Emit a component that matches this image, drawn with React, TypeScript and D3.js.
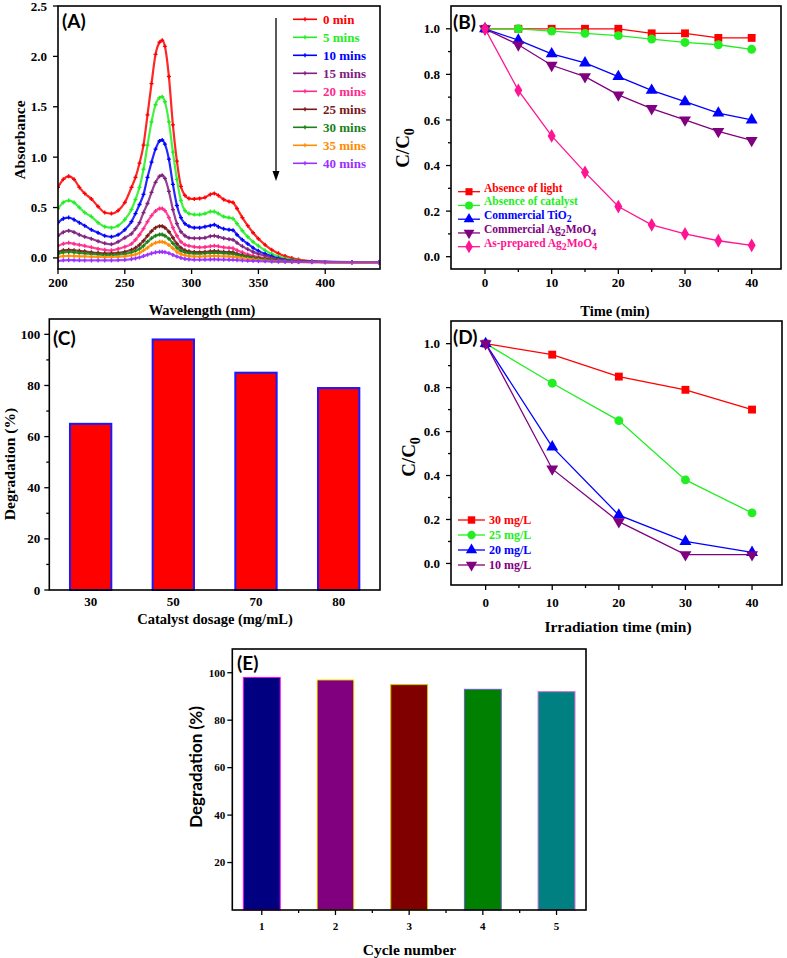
import React from 'react';
import * as d3 from 'd3';

const SERIF = '"Liberation Serif", "Times New Roman", serif';
const SANS = 'Lato, "Liberation Sans", Arial, sans-serif';

// (A) UV-vis spectra, absorbance
const wavelengths = [
  200, 204, 208, 212, 216, 220,
  225, 230, 235, 240, 245, 250, 255,
  258, 261, 264, 267, 270, 273, 276, 278, 280,
  283, 286, 289, 292, 295, 298,
  302, 306, 310, 314, 317, 320,
  324, 328, 331, 334, 338, 342, 346, 350,
  355, 360, 365, 370, 375, 380,
  390, 400, 420, 440,
];
const abs0 = [
  0.70, 0.78, 0.81, 0.78, 0.70, 0.64,
  0.585, 0.51, 0.45, 0.44, 0.47, 0.55, 0.70,
  0.80, 0.94, 1.12, 1.42, 1.73, 2.02, 2.14, 2.16, 2.10,
  1.80, 1.32, 0.96, 0.71, 0.62, 0.59,
  0.585, 0.59, 0.60, 0.63, 0.64, 0.62,
  0.58, 0.56, 0.55, 0.49, 0.40, 0.32, 0.25, 0.19,
  0.13, 0.08, 0.045, 0.018, -0.002, -0.016,
  -0.032, -0.04, -0.045, -0.047,
];
const abs5 = [
  0.49, 0.55, 0.57, 0.55, 0.50, 0.45,
  0.41, 0.35, 0.31, 0.30, 0.32, 0.38, 0.48,
  0.58, 0.70, 0.88, 1.12, 1.35, 1.52, 1.59, 1.60, 1.55,
  1.35, 1.05, 0.78, 0.57, 0.47, 0.44,
  0.43, 0.43, 0.44, 0.46, 0.46, 0.44,
  0.41, 0.40, 0.39, 0.34, 0.27, 0.21, 0.16, 0.12,
  0.075, 0.04, 0.015, -0.005, -0.018, -0.027,
  -0.036, -0.04, -0.042, -0.043,
];
const abs10 = [
  0.35, 0.39, 0.40, 0.38, 0.35, 0.32,
  0.28, 0.25, 0.22, 0.21, 0.23, 0.28, 0.36,
  0.44, 0.53, 0.63, 0.80, 0.95, 1.08, 1.16, 1.17, 1.13,
  0.98, 0.73, 0.52, 0.40, 0.34, 0.315,
  0.30, 0.30, 0.31, 0.32, 0.33, 0.31,
  0.29, 0.28, 0.275, 0.23, 0.18, 0.14, 0.10, 0.07,
  0.04, 0.015, -0.005, -0.018, -0.027, -0.032,
  -0.037, -0.04, -0.042, -0.043,
];
const abs15 = [
  0.22, 0.255, 0.27, 0.255, 0.23, 0.21,
  0.19, 0.165, 0.145, 0.135, 0.16, 0.20, 0.24,
  0.29, 0.35, 0.45, 0.54, 0.65, 0.75, 0.81, 0.82, 0.79,
  0.66, 0.48, 0.34, 0.26, 0.22, 0.20,
  0.195, 0.195, 0.20, 0.215, 0.22, 0.21,
  0.195, 0.185, 0.18, 0.15, 0.115, 0.085, 0.06, 0.04,
  0.02, 0.0, -0.014, -0.024, -0.03, -0.034,
  -0.038, -0.04, -0.042, -0.043,
];
const abs20 = [
  0.12, 0.14, 0.15, 0.14, 0.13, 0.12,
  0.105, 0.09, 0.08, 0.075, 0.09, 0.11, 0.14,
  0.18, 0.23, 0.29, 0.36, 0.42, 0.465, 0.49, 0.49, 0.47,
  0.40, 0.30, 0.22, 0.16, 0.13, 0.12,
  0.11, 0.105, 0.108, 0.115, 0.12, 0.115,
  0.105, 0.10, 0.095, 0.075, 0.055, 0.035, 0.02, 0.01,
  -0.005, -0.015, -0.024, -0.03, -0.034, -0.036,
  -0.039, -0.04, -0.042, -0.043,
];
const abs25 = [
  0.06, 0.075, 0.08, 0.075, 0.07, 0.065,
  0.055, 0.05, 0.045, 0.045, 0.05, 0.06, 0.08,
  0.10, 0.13, 0.17, 0.22, 0.265, 0.30, 0.315, 0.315, 0.30,
  0.26, 0.20, 0.14, 0.10, 0.075, 0.065,
  0.058, 0.057, 0.06, 0.065, 0.068, 0.065,
  0.06, 0.058, 0.055, 0.04, 0.028, 0.015, 0.005, -0.002,
  -0.012, -0.02, -0.027, -0.032, -0.035, -0.037,
  -0.04, -0.041, -0.042, -0.043,
];
const abs30 = [
  0.04, 0.055, 0.06, 0.055, 0.05, 0.045,
  0.04, 0.035, 0.03, 0.03, 0.034, 0.04, 0.055,
  0.07, 0.09, 0.12, 0.16, 0.195, 0.22, 0.232, 0.232, 0.22,
  0.19, 0.145, 0.10, 0.07, 0.055, 0.048,
  0.043, 0.042, 0.045, 0.048, 0.05, 0.048,
  0.045, 0.043, 0.04, 0.03, 0.018, 0.008, 0.0, -0.007,
  -0.015, -0.022, -0.028, -0.033, -0.036, -0.038,
  -0.04, -0.041, -0.042, -0.043,
];
const abs35 = [
  0.01, 0.018, 0.02, 0.018, 0.016, 0.015,
  0.012, 0.01, 0.008, 0.009, 0.011, 0.015, 0.025,
  0.035, 0.05, 0.075, 0.10, 0.13, 0.15, 0.16, 0.16, 0.152,
  0.128, 0.095, 0.06, 0.038, 0.025, 0.018,
  0.014, 0.013, 0.015, 0.018, 0.02, 0.018,
  0.015, 0.014, 0.012, 0.005, -0.003, -0.01, -0.016, -0.021,
  -0.027, -0.032, -0.036, -0.039, -0.041, -0.043,
  -0.045, -0.046, -0.047, -0.047,
];
const abs40 = [
  -0.03, -0.024, -0.022, -0.023, -0.024, -0.025,
  -0.025, -0.025, -0.025, -0.025, -0.023, -0.02, -0.012,
  -0.005, 0.005, 0.018, 0.032, 0.045, 0.055, 0.06, 0.06, 0.057,
  0.046, 0.03, 0.014, 0.0, -0.01, -0.015,
  -0.018, -0.018, -0.017, -0.016, -0.015, -0.016,
  -0.017, -0.018, -0.019, -0.022, -0.025, -0.028, -0.03, -0.032,
  -0.034, -0.036, -0.037, -0.038, -0.039, -0.04,
  -0.041, -0.042, -0.043, -0.043,
];
const spectra = [abs0, abs5, abs10, abs15, abs20, abs25, abs30, abs35, abs40];
const spectraLabels = ['0 min', '5 mins', '10 mins', '15 mins', '20 mins', '25 mins', '30 mins', '35 mins', '40 mins'];
const spectraColors = ['#ff0000', '#22ee22', '#0000ff', '#802080', '#ff2a8a', '#7a1a1a', '#1a801a', '#ff8c00', '#9a30ff'];

// (B) C/C0 vs time
const timesB = [0, 5, 10, 15, 20, 25, 30, 35, 40];
const noLight = [1, 1, 1, 1, 1, 0.98, 0.98, 0.96, 0.96];
const noCatalyst = [1, 1, 0.99, 0.98, 0.97, 0.955, 0.94, 0.93, 0.91];
const commTiO2 = [1, 0.95, 0.89, 0.85, 0.79, 0.73, 0.68, 0.63, 0.6];
const commAg2MoO4 = [1, 0.93, 0.84, 0.79, 0.71, 0.65, 0.6, 0.55, 0.51];
const prepAg2MoO4 = [1, 0.73, 0.53, 0.37, 0.22, 0.14, 0.1, 0.07, 0.05];
const seriesB = [noLight, noCatalyst, commTiO2, commAg2MoO4, prepAg2MoO4];
const labelsB = ['Absence of light', 'Absence of catalyst', 'Commercial TiO2', 'Commercial Ag2MoO4', 'As-prepared Ag2MoO4'];
const colorsB = ['#ff0000', '#22ee22', '#0000ff', '#800080', '#ff1493'];
const shapesB = ['square', 'circle', 'up', 'down', 'diamond'];

// (C) catalyst dosage
const dosages = ['30', '50', '70', '80'];
const dosageDeg = [65, 98, 85, 79];

// (D) initial concentration
const timesD = [0, 10, 20, 30, 40];
const conc30 = [1, 0.95, 0.85, 0.79, 0.7];
const conc25 = [1, 0.82, 0.65, 0.38, 0.23];
const conc20 = [1, 0.53, 0.22, 0.1, 0.05];
const conc10 = [1, 0.43, 0.19, 0.04, 0.04];
const seriesD = [conc30, conc25, conc20, conc10];
const labelsD = ['30 mg/L', '25 mg/L', '20 mg/L', '10 mg/L'];
const colorsD = ['#ff0000', '#22ee22', '#0000ff', '#800080'];
const shapesD = ['square', 'circle', 'up', 'down'];

// (E) recycling
const cycles = ['1', '2', '3', '4', '5'];
const cycleDeg = [98, 97, 95, 93, 92];
const cycleFill = ['#000080', '#800080', '#800000', '#008000', '#008080'];
const cycleStroke = ['#ff00ff', '#ffff00', '#cccc00', '#6a5acd', '#cc66cc'];

function symbolPath(shape: string, size: number) {
  const type =
    shape === 'square' ? d3.symbolSquare :
    shape === 'circle' ? d3.symbolCircle :
    shape === 'diamond' ? d3.symbolDiamond : d3.symbolTriangle;
  return d3.symbol(type, size)() as string;
}

function Marker({ shape, x, y, color, size = 60 }: any) {
  const rot = shape === 'down' ? ' rotate(180)' : '';
  return <path d={symbolPath(shape, size)} transform={`translate(${x},${y})${rot}`} fill={color} />;
}

function Frame({ L, R, T, B }: any) {
  return <rect x={L} y={T} width={R - L} height={B - T} fill="none" stroke="#000" strokeWidth={1.6} />;
}

function YTicks({ scale, x, major, minor = [], fmt, size = 13, gap = 11, len = 5 }: any) {
  return (
    <g>
      {minor.map((v: number) => (
        <line key={'m' + v} x1={x - 3} x2={x} y1={scale(v)} y2={scale(v)} stroke="#000" strokeWidth={1.3} />
      ))}
      {major.map((v: number) => (
        <g key={v}>
          <line x1={x - len} x2={x} y1={scale(v)} y2={scale(v)} stroke="#000" strokeWidth={1.3} />
          <text x={x - gap} y={scale(v)} dy="0.35em" textAnchor="end" fontFamily={SERIF} fontWeight="bold" fontSize={size}>
            {fmt(v)}
          </text>
        </g>
      ))}
    </g>
  );
}

function XTicks({ ticks, minor = [], y, size = 13, offset = 18, len = 5, showTicks = true }: any) {
  return (
    <g>
      {minor.map((p: number, i: number) => (
        <line key={'m' + i} x1={p} x2={p} y1={y} y2={y + 3} stroke="#000" strokeWidth={1.3} />
      ))}
      {ticks.map(([p, label]: [number, string], i: number) => (
        <g key={i}>
          {showTicks && <line x1={p} x2={p} y1={y} y2={y + len} stroke="#000" strokeWidth={1.3} />}
          <text x={p} y={y + offset} textAnchor="middle" fontFamily={SERIF} fontWeight="bold" fontSize={size}>
            {label}
          </text>
        </g>
      ))}
    </g>
  );
}

function Chem({ text }: { text: string }) {
  const parts = text.split(/(\d)/);
  const out: any[] = [];
  let shifted = false;
  parts.forEach((p, i) => {
    if (!p) return;
    if (i % 2) {
      out.push(<tspan key={i} dy={3} fontSize="0.85em">{p}</tspan>);
      shifted = true;
    } else {
      out.push(<tspan key={i} dy={shifted ? -3 : 0}>{p}</tspan>);
      shifted = false;
    }
  });
  return <>{out}</>;
}

function CC0Label({ x, y }: any) {
  return (
    <text transform={`translate(${x},${y}) rotate(-90)`} dy="0.35em" textAnchor="middle" fontFamily={SERIF} fontWeight="bold" fontSize={19}>
      C/C<tspan dy={5} fontSize={14}>0</tspan>
    </text>
  );
}

function PanelLetter({ x, y, text }: any) {
  return <text x={x} y={y} fontFamily={SANS} fontWeight="bold" fontSize={19}>{text}</text>;
}

function PanelA() {
  const L = 58, R = 380, T = 6, B = 269;
  const x = d3.scaleLinear().domain([200, 441]).range([L, R]);
  const y = d3.scaleLinear().domain([-0.11, 2.5]).range([B, T]);
  const line = d3.line<number>().x((_, i) => x(wavelengths[i])).y((v) => y(v)).curve(d3.curveMonotoneX);
  const cross = d3.symbol(d3.symbolCross, 9)() as string;
  return (
    <g>
      <defs>
        <clipPath id="clipA"><rect x={L} y={T} width={R - L} height={B - T} /></clipPath>
      </defs>
      <g clipPath="url(#clipA)">
        {spectra.map((s, k) => (
          <g key={k}>
            <path d={line(s) as string} fill="none" stroke={spectraColors[k]} strokeWidth={2.2} strokeOpacity={0.85} />
            {s.map((v, i) => (
              <path key={i} d={cross} transform={`translate(${x(wavelengths[i])},${y(v)})`} fill={spectraColors[k]} />
            ))}
          </g>
        ))}
      </g>
      <Frame L={L} R={R} T={T} B={B} />
      <YTicks scale={y} x={L} major={[0, 0.5, 1, 1.5, 2, 2.5]} fmt={d3.format('.1f')} />
      <XTicks y={B} ticks={[200, 250, 300, 350, 400].map((v) => [x(v), String(v)])} />
      <text transform="translate(20,140) rotate(-90)" dy="0.35em" textAnchor="middle" fontFamily={SERIF} fontWeight="bold" fontSize={15.5}>
        Absorbance
      </text>
      <text x={202} y={310} dy="0.35em" textAnchor="middle" fontFamily={SERIF} fontWeight="bold" fontSize={14.5}>
        Wavelength (nm)
      </text>
      <PanelLetter x={62} y={28} text="(A)" />
      <line x1={276} x2={276} y1={18} y2={174} stroke="#000" strokeWidth={1.3} />
      <path d="M272.5,171 L279.5,171 L276,181 Z" fill="#000" />
      {spectraLabels.map((lab, i) => {
        const ry = 19.3 + 18 * i;
        return (
          <g key={lab}>
            <line x1={293} x2={317} y1={ry} y2={ry} stroke={spectraColors[i]} strokeWidth={1.6} />
            <path d={cross} transform={`translate(305,${ry})`} fill={spectraColors[i]} />
            <text x={323} y={ry} dy="0.35em" fill={spectraColors[i]} fontFamily={SERIF} fontWeight="bold" fontSize={13}>
              {lab}
            </text>
          </g>
        );
      })}
    </g>
  );
}

function PanelB() {
  const L = 451, R = 781, T = 6, B = 269;
  const x = d3.scaleLinear().domain([-5.1, 44.4]).range([L, R]);
  const y = d3.scaleLinear().domain([-0.054, 1.1]).range([B, T]);
  const line = d3.line<number>().x((_, i) => x(timesB[i])).y((v) => y(v));
  return (
    <g>
      {seriesB.map((s, k) => (
        <g key={k}>
          <path d={line(s) as string} fill="none" stroke={colorsB[k]} strokeWidth={1.3} />
          {s.map((v, i) => (
            <Marker key={i} shape={shapesB[k]} x={x(timesB[i])} y={y(v)} color={colorsB[k]} size={shapesB[k] === 'diamond' ? 55 : 62} />
          ))}
        </g>
      ))}
      <Frame L={L} R={R} T={T} B={B} />
      <YTicks scale={y} x={L} major={[0, 0.2, 0.4, 0.6, 0.8, 1.0]} minor={[0.1, 0.3, 0.5, 0.7, 0.9]} fmt={d3.format('.1f')} />
      <XTicks y={B} ticks={[0, 10, 20, 30, 40].map((v) => [x(v), String(v)])} minor={[5, 15, 25, 35].map((v) => x(v))} />
      <CC0Label x={402} y={148} />
      <text x={615} y={311} dy="0.35em" textAnchor="middle" fontFamily={SERIF} fontWeight="bold" fontSize={14.5}>
        Time (min)
      </text>
      <PanelLetter x={453} y={29} text="(B)" />
      {labelsB.map((lab, i) => {
        const ry = 191.7 + 13.75 * i;
        return (
          <g key={lab}>
            <line x1={458} x2={480} y1={ry} y2={ry} stroke={colorsB[i]} strokeWidth={1.3} />
            <Marker shape={shapesB[i]} x={469} y={ry} color={colorsB[i]} size={50} />
            <text x={484} y={ry} dy="0.35em" fill={colorsB[i]} fontFamily={SERIF} fontWeight="bold" fontSize={11.5}>
              <Chem text={lab} />
            </text>
          </g>
        );
      })}
    </g>
  );
}

function PanelC() {
  const L = 49.3, R = 380, T = 319, B = 590;
  const x = d3.scaleBand<string>().domain(dosages).range([L, R]).paddingInner(0.5).paddingOuter(0.25);
  const y = d3.scaleLinear().domain([0, 106]).range([B, T]);
  return (
    <g>
      {dosages.map((d, i) => (
        <rect key={d} x={x(d)} y={y(dosageDeg[i])} width={x.bandwidth()} height={y(0) - y(dosageDeg[i])}
          fill="#ff0000" stroke="#1a1aff" strokeWidth={2} />
      ))}
      <Frame L={L} R={R} T={T} B={B} />
      <YTicks scale={y} x={L} major={[0, 20, 40, 60, 80, 100]} minor={[10, 30, 50, 70, 90]} fmt={d3.format('d')} gap={9} />
      <XTicks y={B} showTicks={false} offset={16} ticks={dosages.map((d) => [(x(d) as number) + x.bandwidth() / 2, d])} />
      <text transform="translate(10,464) rotate(-90)" dy="0.35em" textAnchor="middle" fontFamily={SERIF} fontWeight="bold" fontSize={15.5}>
        Degradation (%)
      </text>
      <text x={215} y={619} dy="0.35em" textAnchor="middle" fontFamily={SERIF} fontWeight="bold" fontSize={14.5}>
        Catalyst dosage (mg/mL)
      </text>
      <PanelLetter x={53} y={345} text="(C)" />
    </g>
  );
}

function PanelD() {
  const L = 451, R = 782, T = 321, B = 585;
  const x = d3.scaleLinear().domain([-5.2, 44.5]).range([L, R]);
  const y = d3.scaleLinear().domain([-0.098, 1.103]).range([B, T]);
  const line = d3.line<number>().x((_, i) => x(timesD[i])).y((v) => y(v));
  return (
    <g>
      {seriesD.map((s, k) => (
        <g key={k}>
          <path d={line(s) as string} fill="none" stroke={colorsD[k]} strokeWidth={1.3} />
          {s.map((v, i) => (
            <Marker key={i} shape={shapesD[k]} x={x(timesD[i])} y={y(v)} color={colorsD[k]} size={62} />
          ))}
        </g>
      ))}
      <Frame L={L} R={R} T={T} B={B} />
      <YTicks scale={y} x={L} major={[0, 0.2, 0.4, 0.6, 0.8, 1.0]} minor={[0.1, 0.3, 0.5, 0.7, 0.9]} fmt={d3.format('.1f')} />
      <XTicks y={B} offset={22} ticks={[0, 10, 20, 30, 40].map((v) => [x(v), String(v)])} minor={[5, 15, 25, 35].map((v) => x(v))} />
      <CC0Label x={408} y={457} />
      <text x={618} y={627} dy="0.35em" textAnchor="middle" fontFamily={SERIF} fontWeight="bold" fontSize={15.5}>
        Irradiation time (min)
      </text>
      <PanelLetter x={453} y={344} text="(D)" />
      {labelsD.map((lab, i) => {
        const ry = 520 + 15 * i;
        return (
          <g key={lab}>
            <line x1={458} x2={485} y1={ry} y2={ry} stroke={colorsD[i]} strokeWidth={1.3} />
            <Marker shape={shapesD[i]} x={471.5} y={ry} color={colorsD[i]} size={55} />
            <text x={489} y={ry} dy="0.35em" fill={colorsD[i]} fontFamily={SERIF} fontWeight="bold" fontSize={12}>
              {lab}
            </text>
          </g>
        );
      })}
    </g>
  );
}

function PanelE() {
  const L = 232.3, R = 586, T = 649, B = 910;
  const x = d3.scalePoint<string>().domain(cycles).range([L, R]).padding(0.4);
  const y = d3.scaleLinear().domain([0, 110]).range([B, T]);
  const bw = x.step() * 0.5;
  const mids = cycles.slice(1).map((c, i) => ((x(cycles[i]) as number) + (x(c) as number)) / 2);
  return (
    <g>
      {cycles.map((c, i) => (
        <rect key={c} x={(x(c) as number) - bw / 2} y={y(cycleDeg[i])} width={bw} height={y(0) - y(cycleDeg[i])}
          fill={cycleFill[i]} stroke={cycleStroke[i]} strokeWidth={1} />
      ))}
      <Frame L={L} R={R} T={T} B={B} />
      <YTicks scale={y} x={L} major={[20, 40, 60, 80, 100]} fmt={d3.format('d')} size={11} gap={7} />
      <XTicks y={B} size={11} offset={20} ticks={cycles.map((c) => [x(c) as number, c])} minor={mids} />
      <text transform="translate(196,767) rotate(-90)" dy="0.35em" textAnchor="middle" fontFamily={SANS} fontWeight="bold" fontSize={17}>
        Degradation (%)
      </text>
      <text x={409.5} y={950} dy="0.35em" textAnchor="middle" fontFamily={SERIF} fontWeight="bold" fontSize={15.5}>
        Cycle number
      </text>
      <PanelLetter x={237} y={670} text="(E)" />
    </g>
  );
}

export default function App() {
  return (
    <svg width={787} height={958} viewBox="0 0 787 958"
      style={{ position: 'absolute', left: 0, top: 0, background: '#fff' }}>
      <PanelA />
      <PanelB />
      <PanelC />
      <PanelD />
      <PanelE />
    </svg>
  );
}
